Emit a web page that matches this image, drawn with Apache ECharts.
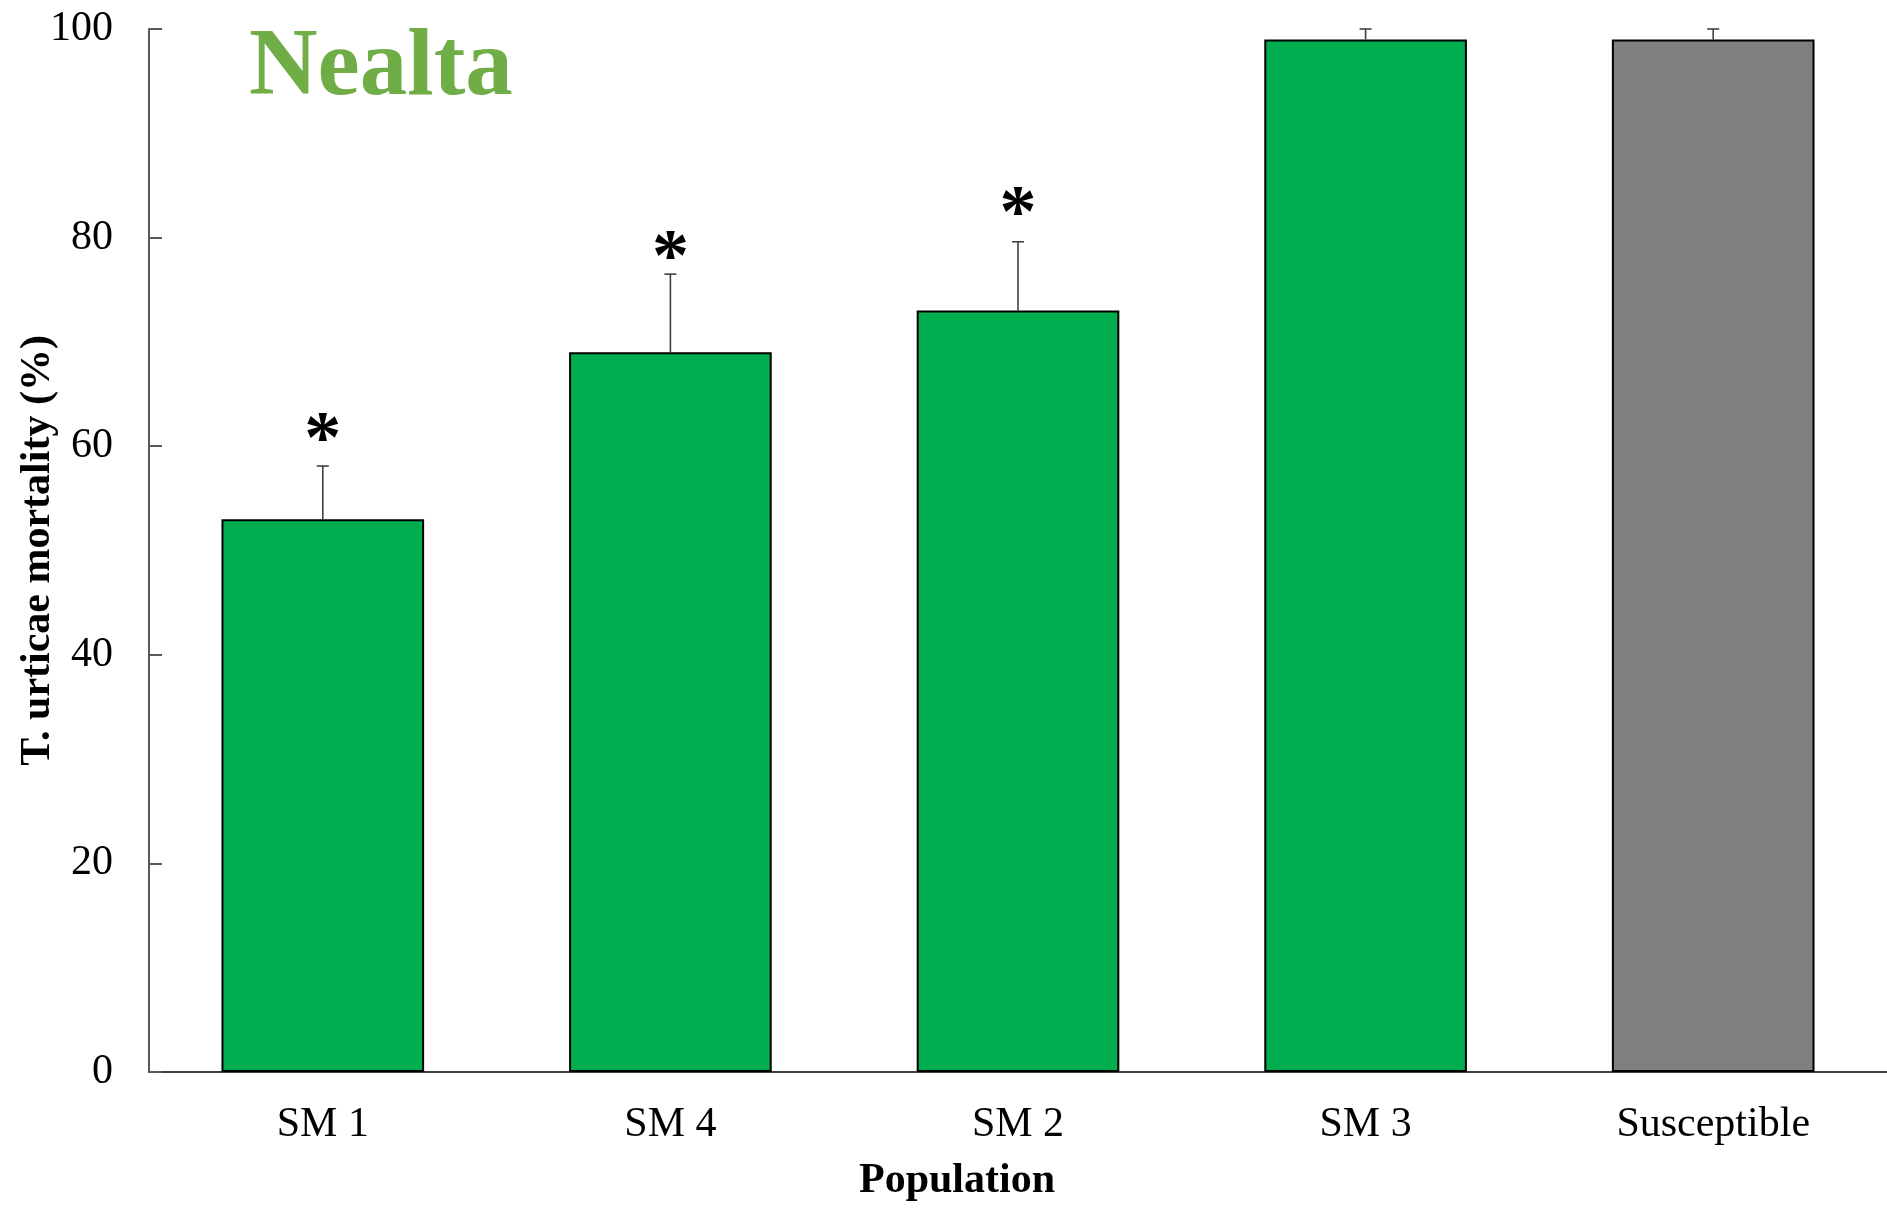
<!DOCTYPE html>
<html>
<head>
<meta charset="utf-8">
<script src="https://cdn.jsdelivr.net/npm/echarts@6/dist/echarts.min.js"></script>
<style>
html,body{margin:0;padding:0;background:#fff;}
#main{width:1887px;height:1208px;}
</style>
</head>
<body>
<div id="main"></div>
<script>
const categories = ['SM 1', 'SM 4', 'SM 2', 'SM 3', 'Susceptible'];
const mortality = [53, 69, 73, 99, 99];
const errorUpper = [58.1, 76.5, 79.6, 100, 100];
const asteriskLabels = ['*', '*', '*', '', ''];
const asteriskValues = [61.7, 79.1, 83.3, null, null];
const barColors = ['#00AE4F', '#00AE4F', '#00AE4F', '#00AE4F', '#7F7F7F'];
const yTicks = [0, 20, 40, 60, 80, 100];

const FONT = "'Liberation Serif', 'Times New Roman', serif";

const chart = echarts.init(document.getElementById('main'));

const barData = mortality.map((v, i) => ({
  value: v,
  itemStyle: { color: barColors[i] }
}));

const errData = mortality.map((v, i) => [i, v, errorUpper[i], asteriskValues[i], asteriskLabels[i]]);

chart.setOption({
  animation: false,
  backgroundColor: '#ffffff',
  grid: { left: 149, right: 0, top: 29, bottom: 136, containLabel: false, outerBoundsMode: 'none' },
  graphic: [{
    type: 'text',
    left: 249,
    top: 22,
    style: {
      text: 'Nealta',
      font: 'bold 95px ' + FONT,
      fill: '#70AD47'
    }
  }],
  xAxis: {
    type: 'category',
    data: categories,
    axisLine: { lineStyle: { color: '#404040', width: 2 } },
    axisTick: { show: false },
    axisLabel: { fontFamily: FONT, fontSize: 42, color: '#000', margin: 32 },
    name: 'Population',
    nameLocation: 'middle',
    nameGap: 88,
    nameMoveOverlap: false,
    nameTextStyle: { fontFamily: FONT, fontSize: 42, fontWeight: 'bold', color: '#000', padding: [0, 122, 0, 0] }
  },
  yAxis: {
    type: 'value',
    min: 0,
    max: 100,
    interval: 20,
    axisLine: { show: true, lineStyle: { color: '#595959', width: 2 } },
    axisTick: { show: true, inside: true, length: 13, lineStyle: { color: '#595959', width: 2 } },
    splitLine: { show: false },
    axisLabel: {
      fontFamily: FONT, fontSize: 42, color: '#000', margin: 36,
      formatter: v => yTicks.indexOf(v) >= 0 ? String(v) : ''
    },
    name: 'T. urticae mortality (%)',
    nameLocation: 'middle',
    nameRotate: 90,
    nameGap: 90,
    nameMoveOverlap: false,
    nameTextStyle: { fontFamily: FONT, fontSize: 42, fontWeight: 'bold', color: '#000' }
  },
  series: [{
    type: 'bar',
    data: barData,
    barWidth: '58.3%',
    itemStyle: { borderColor: '#000', borderWidth: 2 },
    z: 2
  }, {
    type: 'custom',
    data: errData,
    z: 3,
    renderItem: function (params, api) {
      const x = api.value(0);
      const top = api.coord([x, api.value(1)]);
      const hi = api.coord([x, api.value(2)]);
      const children = [
        { type: 'line', shape: { x1: top[0], y1: top[1], x2: hi[0], y2: hi[1] }, style: { stroke: '#404040', lineWidth: 1.6 } },
        { type: 'line', shape: { x1: hi[0] - 6, y1: hi[1], x2: hi[0] + 6, y2: hi[1] }, style: { stroke: '#404040', lineWidth: 1.6 } }
      ];
      const label = asteriskLabels[params.dataIndex];
      const sv = asteriskValues[params.dataIndex];
      if (label && sv != null) {
        const sp = api.coord([x, sv]);
        children.push({
          type: 'text',
          x: sp[0], y: sp[1] + 14,
          style: { text: label, font: 'bold 74px ' + FONT, fill: '#000', align: 'center', verticalAlign: 'middle' }
        });
      }
      return { type: 'group', children: children };
    }
  }]
});
</script>
</body>
</html>
